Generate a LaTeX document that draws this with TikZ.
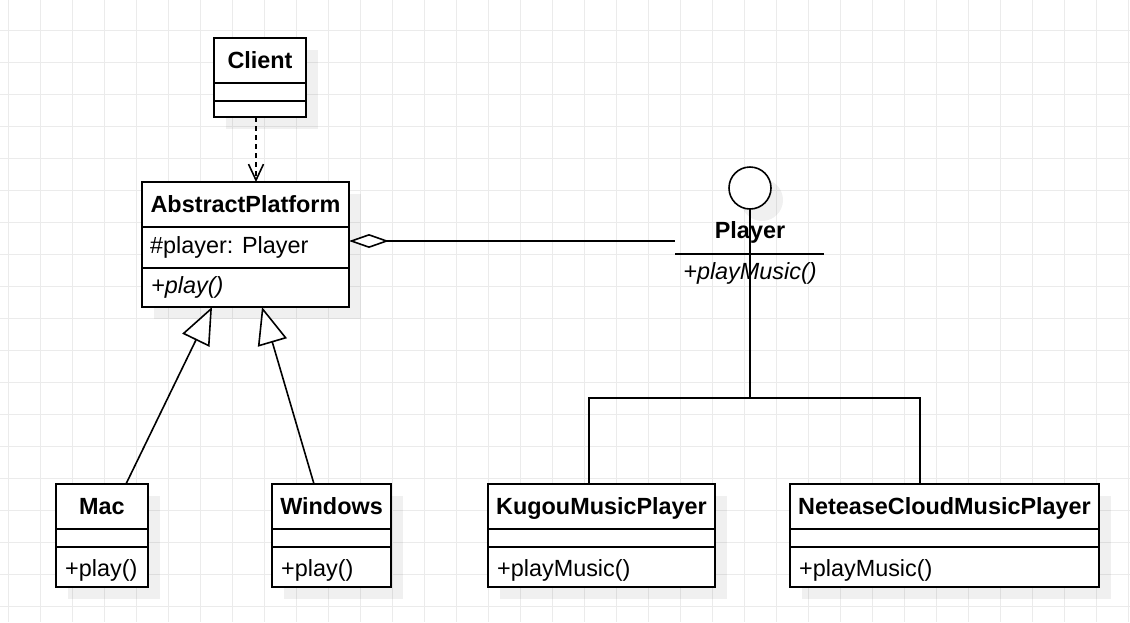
\documentclass[tikz,border=0pt]{standalone}
\usepackage{fontspec}
\setmainfont{Liberation Sans}
\usetikzlibrary{arrows.meta,calc}
\definecolor{gridc}{HTML}{EBEBEB}
\tikzset{
  gridline/.style={draw=gridc, line width=1pt},
  shadowbox/.style={fill=black, fill opacity=0.06},
  classbox/.style={draw=black, fill=white, line width=1.8pt, inner sep=0pt, outer sep=0pt},
  divider/.style={draw=black, line width=1.4pt},
  titletext/.style={anchor=base, inner sep=0pt, font=\fontsize{23.4}{28}\selectfont\bfseries},
  membertext/.style={anchor=base west, inner sep=0pt, font=\fontsize{23.4}{28}\selectfont},
  conn/.style={draw=black, line width=1.6pt},
  gentip/.style={-{Triangle[open, fill=white, length=37pt, width=30pt]}},
  deptip/.style={-{Straight Barb[length=16pt, width=15pt]}},
  aggtip/.style={{Diamond[open, fill=white, length=40pt, width=14pt]}-}
}
\begin{document}
\begin{tikzpicture}[x=1pt, y=-1pt]
\useasboundingbox (0,0) rectangle (1130,622);
\fill[white] (0,0) rectangle (1130,622);
% grid
\foreach \gx in {8,40,...,1128} \draw[gridline] (\gx,0) -- (\gx,622);
\foreach \gy in {30,62,...,622} \draw[gridline] (0,\gy) -- (1130,\gy);
% shadows
\fill[shadowbox] (226,50) rectangle (318,129);
\fill[shadowbox] (154,194) rectangle (361,319);
\fill[shadowbox] (68,496) rectangle (160,599);
\fill[shadowbox] (284,496) rectangle (403,599);
\fill[shadowbox] (500,496) rectangle (727,599);
\fill[shadowbox] (802,496) rectangle (1111,599);
\fill[shadowbox] (762,200) circle[radius=21pt];
% class boxes
\node[classbox, minimum width=92pt, minimum height=79pt] (client) at (260,77.5) {};
\node[classbox, minimum width=207pt, minimum height=125pt] (ap) at (245.5,244.5) {};
\node[classbox, minimum width=92pt, minimum height=103pt] (mac) at (102,535.5) {};
\node[classbox, minimum width=119pt, minimum height=103pt] (win) at (331.5,535.5) {};
\node[classbox, minimum width=227pt, minimum height=103pt] (kugou) at (601.5,535.5) {};
\node[classbox, minimum width=309pt, minimum height=103pt] (netease) at (944.5,535.5) {};
% dividers
\draw[divider] (214,83) -- (306,83);
\draw[divider] (214,101) -- (306,101);
\draw[divider] (142,227) -- (349,227);
\draw[divider] (142,268) -- (349,268);
\foreach \l/\r in {56/148, 272/391, 488/715, 790/1099} {
  \draw[divider] (\l,529) -- (\r,529);
  \draw[divider] (\l,547) -- (\r,547);
}
% texts
\node[titletext] (clientT) at (260,68) {Client};
\node[titletext] (apT) at (245.5,212) {AbstractPlatform};
\node[membertext] (apA) at (150,253) {\#player: Player};
\node[membertext] (apM) at (151,293) {\textit{+play()}};
\node[titletext] (macT) at (102,514) {Mac};
\node[membertext] (macM) at (65,576) {+play()};
\node[titletext] (winT) at (331.5,514) {Windows};
\node[membertext] (winM) at (281,576) {+play()};
\node[titletext] (kugouT) at (601.5,514) {KugouMusicPlayer};
\node[membertext] (kugouM) at (497,576) {+playMusic()};
\node[titletext] (neteaseT) at (944.5,514) {NeteaseCloudMusicPlayer};
\node[membertext] (neteaseM) at (799,576) {+playMusic()};
% interface Player (lollipop)
\node[draw=black, fill=white, circle, minimum size=42pt, inner sep=0pt, outer sep=0pt, line width=1.6pt] (iface) at (750,188) {};
\node[titletext] (playerT) at (750,238) {Player};
\node[anchor=base, inner sep=0pt, font=\fontsize{23.4}{28}\selectfont\itshape] (playerM) at (750,279) {+playMusic()};
\coordinate (ifL) at (675,254);
\coordinate (ifR) at (824,254);
\coordinate (junction) at (750,398);
\draw[conn] (ifL) -- (ifR);
\draw[conn] (iface.south) -- (junction);
\draw[conn] ($(kugou.north west)+(101,0)$) |- (junction) -| ($(netease.north west)+(130,0)$);
% aggregation
\draw[conn, aggtip] ($(ap.north east)+(0,59)$) -- (ifL |- 0,241);
% dependency
\draw[conn, dash pattern=on 5pt off 4pt, deptip] ($(client.south west)+(42,0)$) -- ($(ap.north west)+(114,0)$);
% generalizations
\draw[conn, gentip] ($(mac.north west)+(70,0)$) -- ($(ap.south west)+(70,0)$);
\draw[conn, gentip] ($(win.north west)+(42,0)$) -- ($(ap.south west)+(120,0)$);
\end{tikzpicture}
\end{document}
